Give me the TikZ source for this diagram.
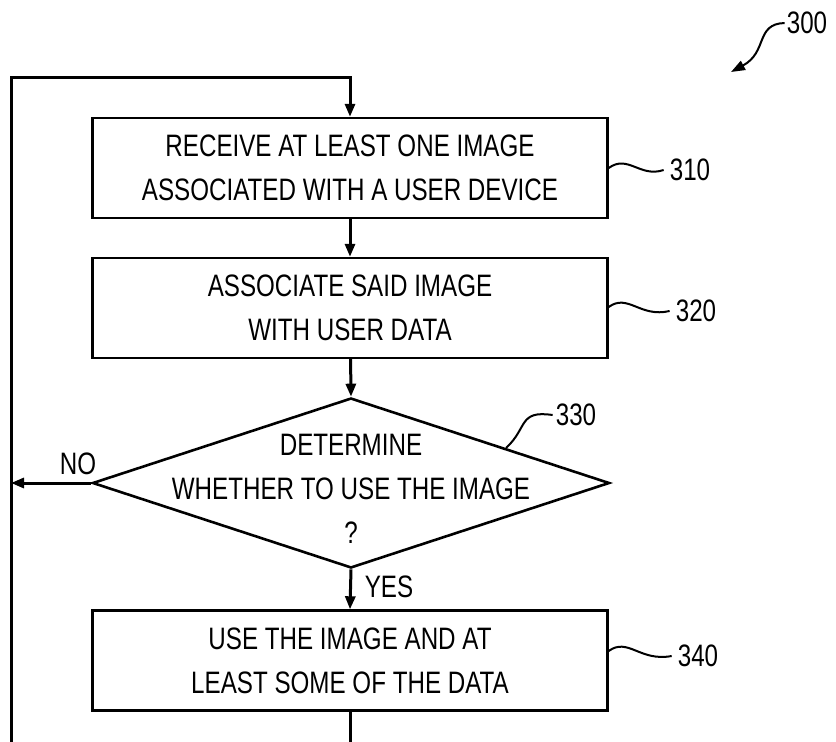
\documentclass[tikz,border=0pt]{standalone}
\usepackage{fontspec}
\setmainfont{Liberation Sans}[FakeStretch=0.78]
\usetikzlibrary{arrows.meta,shapes.geometric}

\begin{document}
\begin{tikzpicture}[x=1pt,y=-1pt,
        main box/.style={draw,line width=2.4pt,minimum width=515pt,minimum height=100pt,inner sep=0pt,align=center,font=\fontsize{31}{44}\selectfont},
        main decision/.style={draw,diamond,line width=2.6pt,minimum width=517pt,minimum height=170pt,inner sep=0pt},
        main text/.style={align=center,inner sep=0pt,font=\fontsize{31}{44}\selectfont},
        flow/.style={line width=3pt,-{Triangle[length=13pt,width=10pt]}},
        leader/.style={line width=2pt}]
        \useasboundingbox (0,0) rectangle (836,742);

        \node[main box] at (350, 168) (b310) {RECEIVE AT LEAST ONE IMAGE\\ASSOCIATED WITH A USER DEVICE};
        \node[main box] at (350, 308) (b320) {ASSOCIATE SAID IMAGE\\WITH USER DATA};
        \node[main decision] at (351, 483) (d330) {};
        \node[main text] at (351, 489) (t330) {DETERMINE\\WHETHER TO USE THE IMAGE\\?};
        \node[main box] at (350, 660.5) (b340) {USE THE IMAGE AND AT\\LEAST SOME OF THE DATA};

        \coordinate (lt) at (11, 77);
        \coordinate (lb) at (11, 742);
        \coordinate (end) at (350, 742);

        % labels
        \node[main text] at (690, 170) (n310) {310};
        \node[main text] at (696, 311) (n320) {320};
        \node[main text] at (576, 415) (n330) {330};
        \node[main text] at (698, 656) (n340) {340};
        \node[main text] at (807, 23) (n300) {300};
        \node[main text] at (78, 464) (no) {NO};
        \node[main text] at (389, 587) (yes) {YES};

        \draw[flow] (lb) -- (lt) -| (b310.north);
        \draw[flow] (b310) -- (b320);
        \draw[flow] (b320) -- (d330.north);
        \draw[flow] (d330.west) -- (lb |- d330.west);
        \draw[flow] (d330.south) -- (b340.north);
        \draw[line width=3pt] (b340) -- (end);

        % leaders
        \draw[leader] (b310.east |- 0,168) .. controls (628,154) and (640,178) .. ([xshift=-6pt]n310.west);
        \draw[leader] (b320.east |- 0,307) .. controls (628,293) and (640,318) .. ([xshift=-6pt]n320.west);
        \draw[leader] (b340.east |- 0,651) .. controls (628,637) and (640,662) .. ([xshift=-6pt]n340.west);
        \draw[leader] (506,448) .. controls (528,428) and (518,410) .. ([xshift=-3pt]n330.west);
        \draw[leader,-{Triangle[length=14pt,width=10pt]}] ([xshift=-2pt]n300.west) .. controls (755,24) and (768,52) .. (731,72);
        \end{tikzpicture}
\end{document}
